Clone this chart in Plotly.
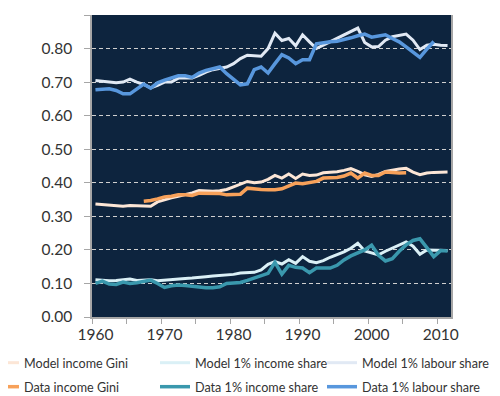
import plotly.graph_objects as go

years = list(range(1960, 2012))

model_gini = [0.337, 0.335, 0.333, 0.331, 0.330, 0.332, 0.331, 0.330, 0.330, 0.343,
              0.350, 0.355, 0.360, 0.364, 0.370, 0.377, 0.375, 0.375, 0.376, 0.380,
              0.388, 0.396, 0.404, 0.400, 0.402, 0.410, 0.422, 0.414, 0.426, 0.413,
              0.426, 0.422, 0.423, 0.430, 0.431, 0.433, 0.437, 0.442, 0.434, 0.424,
              0.419, 0.425, 0.434, 0.438, 0.441, 0.443, 0.432, 0.424, 0.429, 0.431,
              0.432, 0.432]

model_top1_income = [0.111, 0.109, 0.108, 0.109, 0.112, 0.113, 0.109, 0.110, 0.111, 0.108,
                     0.110, 0.113, 0.114, 0.115, 0.116, 0.117, 0.120, 0.122, 0.123, 0.125,
                     0.127, 0.131, 0.133, 0.133, 0.140, 0.157, 0.165, 0.158, 0.171, 0.160,
                     0.180, 0.166, 0.162, 0.168, 0.178, 0.186, 0.194, 0.205, 0.220, 0.197,
                     0.190, 0.185, 0.196, 0.205, 0.213, 0.224, 0.211, 0.187, 0.200, 0.200,
                     0.198, 0.198]

model_top1_labour = [0.705, 0.703, 0.700, 0.698, 0.700, 0.709, 0.700, 0.693, 0.683, 0.690,
                     0.700, 0.700, 0.712, 0.712, 0.712, 0.720, 0.730, 0.737, 0.740, 0.745,
                     0.755, 0.770, 0.780, 0.778, 0.777, 0.800, 0.846, 0.824, 0.830, 0.808,
                     0.841, 0.820, 0.800, 0.810, 0.820, 0.830, 0.840, 0.850, 0.861, 0.818,
                     0.805, 0.806, 0.825, 0.835, 0.840, 0.843, 0.825, 0.797, 0.810, 0.813,
                     0.810, 0.809]

data_gini_years = list(range(1967, 2006))
data_gini = [0.345, 0.347, 0.352, 0.358, 0.360, 0.364, 0.364, 0.362, 0.369, 0.369,
             0.369, 0.368, 0.364, 0.365, 0.366, 0.384, 0.381, 0.380, 0.379, 0.379,
             0.382, 0.390, 0.399, 0.397, 0.400, 0.404, 0.414, 0.414, 0.416, 0.420,
             0.429, 0.414, 0.429, 0.422, 0.422, 0.432, 0.430, 0.429, 0.430]

data_top1_income = [0.100, 0.107, 0.098, 0.097, 0.104, 0.100, 0.102, 0.105, 0.110, 0.100,
                    0.088, 0.093, 0.095, 0.094, 0.091, 0.088, 0.087, 0.087, 0.090, 0.100,
                    0.101, 0.103, 0.109, 0.116, 0.121, 0.130, 0.163, 0.128, 0.154, 0.148,
                    0.146, 0.132, 0.146, 0.146, 0.146, 0.154, 0.170, 0.182, 0.192, 0.200,
                    0.214, 0.184, 0.167, 0.174, 0.196, 0.215, 0.228, 0.233, 0.207, 0.180,
                    0.198, 0.197]

data_labour_years = list(range(1960, 2010))
data_top1_labour = [0.677, 0.678, 0.680, 0.675, 0.665, 0.665, 0.680, 0.694, 0.682, 0.698,
                    0.706, 0.713, 0.719, 0.719, 0.714, 0.727, 0.735, 0.740, 0.745, 0.725,
                    0.710, 0.692, 0.695, 0.737, 0.745, 0.727, 0.755, 0.782, 0.772, 0.755,
                    0.767, 0.767, 0.814, 0.818, 0.820, 0.822, 0.826, 0.832, 0.838, 0.843,
                    0.834, 0.838, 0.841, 0.830, 0.820, 0.805, 0.790, 0.774, 0.798, 0.821]

y_ticks = [0.0, 0.1, 0.2, 0.3, 0.4, 0.5, 0.6, 0.7, 0.8, 0.9]
x_labels = [1960, 1970, 1980, 1990, 2000, 2010]

series = [
    ("Model income Gini", years, model_gini, "#fce6d6", 3),
    ("Model 1% income share", years, model_top1_income, "#daf0f6", 3),
    ("Model 1% labour share", years, model_top1_labour, "#e1e9f4", 3),
    ("Data income Gini", data_gini_years, data_gini, "#f7a15a", 3.5),
    ("Data 1% income share", years, data_top1_income, "#3a98ad", 3.5),
    ("Data 1% labour share", data_labour_years, data_top1_labour, "#5897dd", 3.5),
]

# legend layout: 3 columns x 2 rows, one single-entry legend per series
legend_ids = ["legend", "legend2", "legend3", "legend4", "legend5", "legend6"]
col_px = [-24, 147, 314]   # item origin, page pixels
row_px = [355, 379]        # item anchor, page pixels

L, R, T, B = 84, 57, 7, 87
W, H = 500, 396
pw, ph = W - L - R, H - T - B

fig = go.Figure()
for i, (name, xs, ys, color, w) in enumerate(series):
    fig.add_trace(go.Scatter(x=xs, y=ys, mode="lines", name=name,
                             line=dict(color=color, width=w), legend=legend_ids[i]))

axis_gray = "#a6a6a6"

layout_legends = {}
for i, lid in enumerate(legend_ids):
    col = i % 3
    row = i // 3
    layout_legends[lid] = dict(
        orientation="h",
        x=(col_px[col] - L) / pw, xanchor="left",
        y=(H - B - row_px[row]) / ph, yanchor="middle",
        itemwidth=30,
        font=dict(size=12.6, color="#333333"),
        bgcolor="rgba(0,0,0,0)",
    )

fig.update_layout(
    width=W, height=H,
    margin=dict(l=L, r=R, t=T, b=B, autoexpand=False),
    paper_bgcolor="white",
    plot_bgcolor="#0d243e",
    font=dict(family="Lato", color="#333333"),
    xaxis=dict(
        range=[1959.5, 2011.5],
        tickvals=x_labels,
        ticktext=[str(v) for v in x_labels],
        ticks="",
        showgrid=False,
        showline=True, linecolor=axis_gray, linewidth=1.5,
        tickfont=dict(size=15.5, color="#333333"),
        ticklabelstandoff=3,
        minor=dict(tickvals=[1959.5 + 5 * k for k in range(11)],
                   ticks="outside", ticklen=5, tickcolor=axis_gray, tickwidth=1,
                   showgrid=False),
        zeroline=False,
    ),
    yaxis=dict(
        range=[0, 0.9],
        tickvals=y_ticks,
        ticktext=["%.2f" % v for v in y_ticks],
        ticks="outside", ticklen=6, tickcolor=axis_gray, tickwidth=1,
        showgrid=True, gridcolor="#d0d0d0", gridwidth=1, griddash="4px,3px",
        showline=True, linecolor=axis_gray, linewidth=1.5, mirror=True,
        tickfont=dict(size=15.5, color="#333333"),
        ticklabelstandoff=9,
        zeroline=False,
    ),
    showlegend=True,
    **layout_legends,
)

fig.write_html("out.html")
